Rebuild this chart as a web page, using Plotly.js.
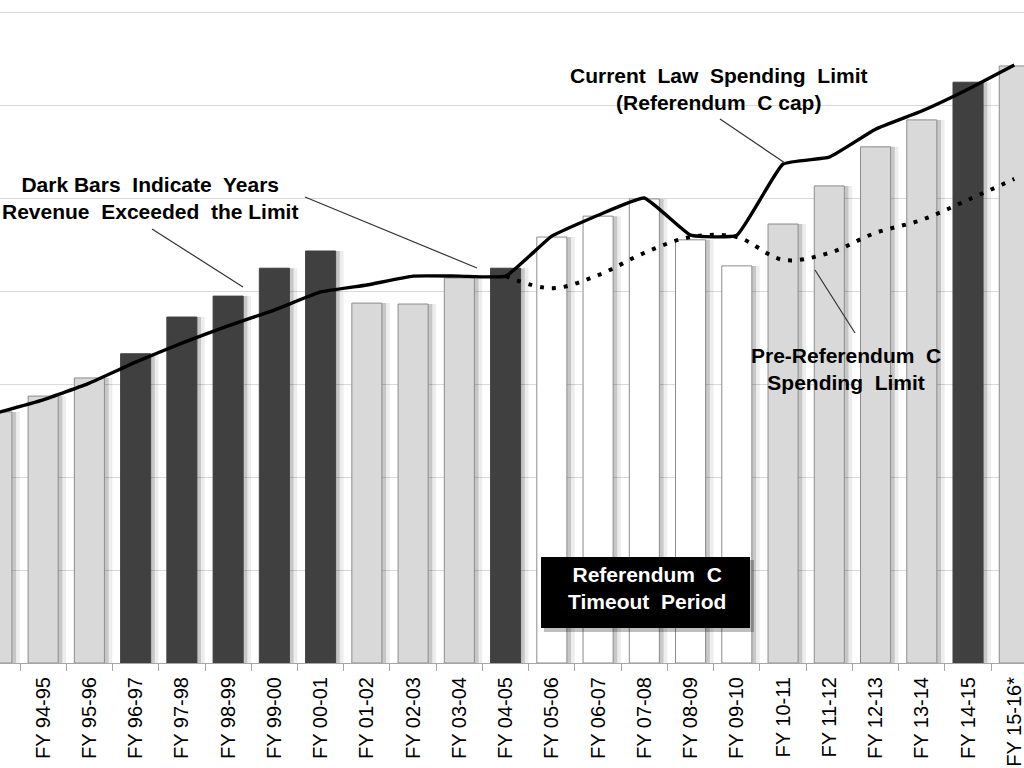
<!DOCTYPE html>
<html>
<head>
<meta charset="utf-8">
<script src="https://cdn.plot.ly/plotly-3.0.1.min.js"></script>
<style>
  html, body { margin: 0; padding: 0; background: #fff; }
  #chart { width: 1024px; height: 768px; }
</style>
</head>
<body>
<div id="chart"></div>
<script>
// Fiscal years
const categories = ["FY 93-94","FY 94-95","FY 95-96","FY 96-97","FY 97-98","FY 98-99","FY 99-00","FY 00-01",
  "FY 01-02","FY 02-03","FY 03-04","FY 04-05","FY 05-06","FY 06-07","FY 07-08","FY 08-09","FY 09-10",
  "FY 10-11","FY 11-12","FY 12-13","FY 13-14","FY 14-15","FY 15-16*"];

// Revenue ($ billions)
const revenue = [5.40,5.74,6.13,6.65,7.44,7.89,8.49,8.86,7.74,7.72,8.28,8.49,9.16,9.61,9.98,9.10,8.54,
  9.44,10.26,11.10,11.68,12.49,12.84];

// Bar group: "exceeded" (dark), "under" (light), "timeout" (white)
const barGroup = ["under","under","under","exceeded","exceeded","exceeded","exceeded","exceeded",
  "under","under","under","exceeded","timeout","timeout","timeout","timeout","timeout",
  "under","under","under","under","exceeded","under"];

// Current Law Spending Limit (Referendum C cap)
const currentLimit = [5.38,5.66,6.02,6.47,6.88,7.25,7.59,7.98,8.13,8.32,8.32,8.32,9.18,9.63,10.00,9.20,9.20,
  10.73,10.88,11.48,11.87,12.34,12.86];

// Pre-Referendum C Spending Limit (starts FY 04-05)
const preRefCategories = ["FY 04-05","FY 05-06","FY 06-07","FY 07-08","FY 08-09","FY 09-10",
  "FY 10-11","FY 11-12","FY 12-13","FY 13-14","FY 14-15","FY 15-16*"];
const preRefLimit = [8.32,8.06,8.34,8.82,9.16,9.16,8.67,8.82,9.25,9.53,9.96,10.41];

const fillColors = {exceeded: "#404040", under: "#d9d9d9", timeout: "#ffffff"};
const edgeColors = {exceeded: "#404040", under: "#8c8c8c", timeout: "#8c8c8c"};

const BW = 0.65;
const traces = [
  {type: "bar", x: categories, y: revenue, width: BW, offset: -BW/2 + 0.17,
   marker: {color: "rgba(0,0,0,0.07)", line: {width: 0}}, hoverinfo: "skip", showlegend: false},
  {type: "bar", x: categories, y: revenue, width: BW, offset: -BW/2 + 0.09,
   marker: {color: "rgba(0,0,0,0.16)", line: {width: 0}}, hoverinfo: "skip", showlegend: false},
  {type: "bar", x: categories, y: revenue, width: BW, offset: -BW/2,
   marker: {color: barGroup.map(g => fillColors[g]),
            line: {color: barGroup.map(g => edgeColors[g]), width: 1}},
   name: "Revenue", showlegend: false},
  {type: "scatter", mode: "lines", x: preRefCategories, y: preRefLimit,
   line: {color: "#000", width: 4, dash: "4px,8px", shape: "spline", smoothing: 1},
   name: "Pre-Referendum C Spending Limit", showlegend: false},
  {type: "scatter", mode: "lines", x: categories, y: currentLimit,
   line: {color: "#000", width: 3.4, shape: "spline", smoothing: 0.35},
   name: "Current Law Spending Limit", showlegend: false}
];

const W = 1024, PLOT_H = 663;
const px = x => x / W;
const py = y => (PLOT_H - y) / PLOT_H;
const txtFont = {family: "Liberation Sans, Arial, sans-serif", size: 21, color: "#000"};

const leader = (x0, y0, x1, y1) => ({type: "line", xref: "paper", yref: "paper",
  x0: px(x0), y0: py(y0), x1: px(x1), y1: py(y1), line: {color: "#333", width: 1.2}, layer: "above"});

const layout = {
  width: 1024, height: 768,
  margin: {l: 0, r: 0, t: 0, b: 105, pad: 0},
  paper_bgcolor: "#fff", plot_bgcolor: "#fff",
  barmode: "overlay",
  showlegend: false,
  xaxis: {
    type: "category", range: [0.067, 22.21],
    showgrid: false, zeroline: false,
    showline: true, linecolor: "#a6a6a6", linewidth: 1,
    ticks: "outside", tickson: "boundaries", ticklen: 7, tickcolor: "#a6a6a6",
    tickangle: -90, ticklabelstandoff: 5,
    tickfont: {family: "Liberation Sans, Arial, sans-serif", size: 20, color: "#000"},
    fixedrange: true
  },
  yaxis: {
    range: [0, 14.258], dtick: 2, showticklabels: false,
    showgrid: true, gridcolor: "#d9d9d9", gridwidth: 1,
    zeroline: false, showline: false, ticks: "", fixedrange: true
  },
  shapes: [
    leader(305, 197, 477, 268),
    leader(152, 229, 243, 287),
    leader(720, 119, 785, 163),
    leader(815, 270, 855, 333),
    {type: "rect", xref: "paper", yref: "paper", x0: px(544), x1: px(754), y0: py(632), y1: py(560),
     fillcolor: "rgba(0,0,0,0.25)", line: {width: 0}, layer: "above"},
    {type: "rect", xref: "paper", yref: "paper", x0: px(541), x1: px(750), y0: py(628), y1: py(557),
     fillcolor: "#000", line: {width: 0}, layer: "above"}
  ],
  annotations: [
    {xref: "paper", yref: "paper", x: px(150), y: py(198), showarrow: false, align: "center",
     xanchor: "center", yanchor: "middle", font: txtFont,
     text: "<b>Dark Bars&nbsp; Indicate&nbsp; Years<br>Revenue&nbsp; Exceeded&nbsp; the Limit</b>"},
    {xref: "paper", yref: "paper", x: px(719), y: py(89.5), showarrow: false, align: "center",
     xanchor: "center", yanchor: "middle", font: txtFont,
     text: "<b>Current&nbsp; Law&nbsp; Spending&nbsp; Limit<br>(Referendum&nbsp; C cap)</b>"},
    {xref: "paper", yref: "paper", x: px(846), y: py(369), showarrow: false, align: "center",
     xanchor: "center", yanchor: "middle", font: txtFont,
     text: "<b>Pre-Referendum&nbsp; C<br>Spending&nbsp; Limit</b>"},
    {xref: "paper", yref: "paper", x: px(647), y: py(588), showarrow: false, align: "center",
     xanchor: "center", yanchor: "middle", font: Object.assign({}, txtFont, {color: "#fff"}),
     text: "<b>Referendum&nbsp; C<br>Timeout&nbsp; Period</b>"}
  ]
};

Plotly.newPlot("chart", traces, layout, {displayModeBar: false, staticPlot: true});
</script>
</body>
</html>
